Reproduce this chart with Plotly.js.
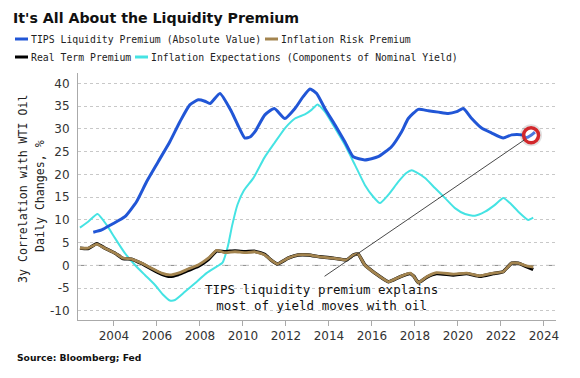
<!DOCTYPE html>
<html>
<head>
<meta charset="utf-8">
<script src="https://cdn.plot.ly/plotly-3.0.1.min.js"></script>
<style>html,body{margin:0;padding:0;background:#fff;}#chart{width:580px;height:378px;}</style>
</head>
<body>
<div id="chart"></div>
<script>
// ---- Data ----
const seriesNames = [
  "TIPS Liquidity Premium (Absolute Value)",
  "Inflation Risk Premium",
  "Real Term Premium",
  "Inflation Expectations (Components of Nominal Yield)"
];

const tipsX = [2003.04,2003.43,2003.89,2004.51,2005.05,2005.52,2006.06,2006.6,2007.07,2007.53,2007.92,2008.23,2008.47,2008.93,2009.47,2009.8,2010.09,2010.35,2010.56,2011.02,2011.46,2011.95,2012.42,2012.8,2013.12,2013.43,2013.81,2014.28,2014.74,2015.13,2015.67,2016.29,2016.91,2017.38,2017.69,2018.16,2018.62,2019.09,2019.55,2019.94,2020.25,2020.64,2021.1,2021.57,2022.11,2022.5,2022.96,2023.2,2023.4,2023.58];
const tipsY = [7.3,7.8,9.0,10.7,14.0,18.4,22.8,27.2,31.6,35.3,36.4,36.1,35.6,37.8,33.8,30.5,28.0,28.3,29.4,33.1,34.5,32.3,34.5,37.1,38.8,37.8,34.5,30.9,27.2,23.9,23.2,23.9,26.1,29.4,32.3,34.3,34.0,33.7,33.4,33.8,34.5,32.3,30.2,29.1,28.0,28.7,28.7,28.1,28.6,29.3];

const ieX = [2002.42,2002.8,2003.24,2003.66,2004.05,2004.51,2004.98,2005.44,2005.91,2006.3,2006.6,2006.84,2007.3,2007.77,2008.31,2008.7,2009.05,2009.3,2009.5,2009.75,2010.05,2010.5,2011.0,2011.45,2011.98,2012.42,2012.88,2013.19,2013.47,2013.81,2014.28,2014.74,2015.21,2015.67,2016.06,2016.37,2016.76,2017.23,2017.6,2017.85,2018.05,2018.47,2018.93,2019.4,2019.86,2020.33,2020.79,2021.26,2021.72,2022.11,2022.42,2022.81,2023.27,2023.5];
const ieY = [8.3,9.6,11.3,8.9,6.0,2.7,0.1,-2.1,-4.3,-6.5,-7.7,-7.6,-5.8,-3.9,-1.7,-0.5,0.6,4.2,8.8,13.4,16.5,19.3,23.7,26.8,30.3,32.3,33.2,34.2,35.4,33.8,30.2,26.5,22.1,17.7,15.1,13.7,15.5,18.4,20.3,20.9,20.5,19.2,17.0,14.8,12.6,11.3,10.9,11.8,13.3,14.8,13.7,11.8,10.0,10.5];

const premX = [2002.42,2002.8,2003.2,2003.58,2004.05,2004.43,2004.82,2005.29,2005.75,2006.22,2006.6,2006.99,2007.45,2007.92,2008.39,2008.78,2009.16,2009.63,2010.09,2010.56,2011.02,2011.3,2011.6,2012.1,2012.57,2013.04,2013.58,2014.2,2014.82,2015.13,2015.36,2015.67,2016.14,2016.76,2017.3,2017.77,2017.95,2018.16,2018.55,2019.0,2019.78,2020.4,2021.02,2021.64,2022.1,2022.5,2022.8,2023.19,2023.5];
const irpY = [3.8,3.8,4.7,3.8,2.7,1.6,1.4,0.5,-0.6,-1.7,-2.1,-1.7,-0.8,0.1,1.6,3.3,2.8,3.0,2.8,3.0,2.3,1.2,0.3,1.6,2.3,2.3,1.9,1.6,1.2,2.3,2.5,0.1,-1.7,-3.6,-2.5,-1.7,-2.4,-3.8,-2.5,-1.6,-1.9,-1.7,-2.3,-1.7,-1.4,0.5,0.5,-0.1,-0.4];
const rtpY = [3.8,3.7,4.8,3.8,2.7,1.5,1.4,0.4,-0.8,-1.9,-2.4,-2.0,-1.1,-0.2,1.3,3.2,3.0,3.2,3.0,3.1,2.4,1.2,0.3,1.6,2.3,2.3,1.9,1.6,1.2,2.3,2.5,0.1,-1.7,-3.6,-2.5,-1.8,-2.4,-3.8,-2.6,-1.8,-2.1,-1.8,-2.4,-1.8,-1.4,0.5,0.5,-0.3,-0.9];

const highlightYear = 2023.4;
const xTickVals = [2004,2006,2008,2010,2012,2014,2016,2018,2020,2022,2024];
const yTickVals = [-10,-5,0,5,10,15,20,25,30,35,40];

// ---- Styling / layout helpers ----
const colors = ["#2156d6", "#a3844f", "#000000", "#45e3e3"];
const W = 580, H = 378;
const M = {l: 78, r: 24, t: 73, b: 58};
const pw = W - M.l - M.r, ph = H - M.t - M.b;
const px = x => (x - M.l) / pw;
const py = y => (H - M.b - y) / ph;
const mono = "DejaVu Sans Mono, Liberation Mono, monospace";
const sans = "DejaVu Sans, Verdana, sans-serif";

const hIdx = tipsX.indexOf(highlightYear);
const hY = tipsY[hIdx];

const traces = [
  {x: ieX, y: ieY, mode: "lines", line: {color: colors[3], width: 2, shape: "spline", smoothing: 0.5}, name: seriesNames[3]},
  {x: premX, y: rtpY, mode: "lines", line: {color: colors[2], width: 3.4, shape: "spline", smoothing: 0.4}, name: seriesNames[2]},
  {x: premX, y: irpY, mode: "lines", line: {color: colors[1], width: 2.8, shape: "spline", smoothing: 0.4}, name: seriesNames[1]},
  {x: tipsX, y: tipsY, mode: "lines", line: {color: colors[0], width: 3, shape: "spline", smoothing: 0.5}, name: seriesNames[0]},
  {x: [highlightYear], y: [hY], mode: "markers", name: "highlight shadow",
   marker: {symbol: "circle", size: 20, color: "rgba(0,0,0,0)", line: {color: "rgba(0,0,0,0.12)", width: 2}}},
  {x: [highlightYear], y: [hY], mode: "markers", name: "highlight",
   marker: {symbol: "circle", size: 15, color: "rgba(255,255,255,0.2)", line: {color: "#d2282c", width: 3.5}}}
];

// manual legend
const legendItems = [
  {i: 0, lx: 15, ty: 39},
  {i: 1, lx: 265, ty: 39},
  {i: 2, lx: 15, ty: 57},
  {i: 3, lx: 135, ty: 57}
];
const shapes = [
  {type: "line", xref: "paper", yref: "y", x0: 0, x1: 1, y0: 0, y1: 0,
   line: {color: "#8a8a8a", width: 1, dash: "dash"}, layer: "below"}
];
const annotations = [];
legendItems.forEach(it => {
  shapes.push({type: "line", xref: "paper", yref: "paper",
    x0: px(it.lx), x1: px(it.lx + 13), y0: py(it.ty), y1: py(it.ty),
    line: {color: colors[it.i], width: 3}});
  annotations.push({xref: "paper", yref: "paper", x: px(it.lx + 14), y: py(it.ty),
    xanchor: "left", yanchor: "middle", showarrow: false, text: seriesNames[it.i],
    font: {family: mono, size: 9.8, color: "#222"}});
});

// y-axis title (two rotated lines)
annotations.push({xref: "paper", yref: "paper", x: px(23), y: py(189), xanchor: "center", yanchor: "middle",
  textangle: -90, showarrow: false, text: "3y Correlation with WTI Oil",
  font: {family: mono, size: 11.6, color: "#222"}});
annotations.push({xref: "paper", yref: "paper", x: px(40), y: py(196), xanchor: "center", yanchor: "middle",
  textangle: -90, showarrow: false, text: "Daily Changes, %",
  font: {family: mono, size: 11.6, color: "#222"}});

// callout line and text
annotations.push({x: highlightYear, y: hY, xref: "x", yref: "y", ax: -208, ay: 142,
  showarrow: true, arrowhead: 0, arrowwidth: 0.9, arrowcolor: "#333", standoff: 8, text: ""});
annotations.push({xref: "paper", yref: "paper", x: px(321), y: py(297), xanchor: "center", yanchor: "middle",
  showarrow: false, text: "TIPS liquidity premium explains<br>most of yield moves with oil",
  font: {family: mono, size: 12.5, color: "#111"}});

// source
annotations.push({xref: "paper", yref: "paper", x: px(15), y: py(357), xanchor: "left", yanchor: "middle",
  showarrow: false, text: "Source: Bloomberg; Fed",
  font: {family: sans, size: 9.2, color: "#111", weight: 700}});

const layout = {
  width: W, height: H,
  margin: M,
  paper_bgcolor: "#fff", plot_bgcolor: "#fff",
  showlegend: false,
  title: {text: "It's All About the Liquidity Premium", x: 13 / W, xref: "container", xanchor: "left",
    y: 1 - 18 / H, yref: "container", yanchor: "middle",
    font: {family: sans, size: 14.2, color: "#111", weight: 700}},
  xaxis: {range: [2002.33, 2024.56], tickvals: xTickVals, ticktext: xTickVals.map(String),
    showgrid: false, zeroline: false, showline: true, linecolor: "#aaa", linewidth: 1,
    ticks: "outside", ticklen: 5, tickcolor: "#aaa", tickwidth: 1,
    tickfont: {family: sans, size: 12, color: "#333"}},
  yaxis: {range: [-12, 42.3], tickvals: yTickVals, ticktext: yTickVals.map(String),
    showgrid: true, gridcolor: "#c8c8c8", griddash: "dot", gridwidth: 1,
    zeroline: false, showline: true, linecolor: "#aaa", linewidth: 1,
    ticks: "", ticklabelstandoff: 5,
    tickfont: {family: sans, size: 12, color: "#333"}},
  shapes: shapes,
  annotations: annotations
};

Plotly.newPlot("chart", traces, layout, {staticPlot: true, displayModeBar: false});
</script>
</body>
</html>
